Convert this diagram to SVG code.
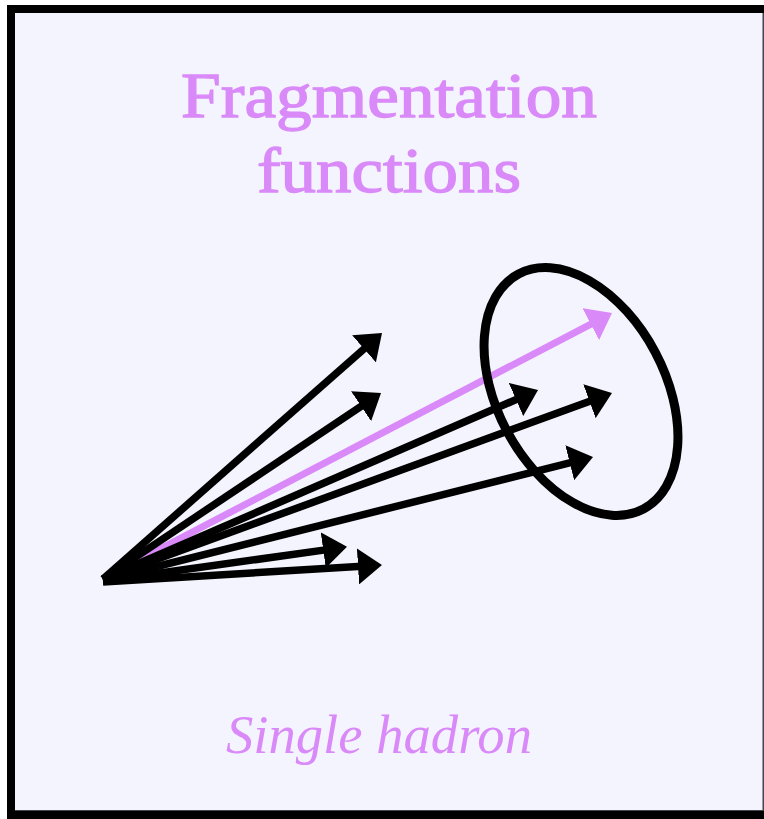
<svg xmlns="http://www.w3.org/2000/svg" width="764" height="819" viewBox="0 0 764 819">
<defs>
<style>
.ln{fill:none;stroke:#000;stroke-width:7.5;stroke-linecap:butt}
.pl{fill:none;stroke:#D98AF8;stroke-width:7;stroke-linecap:butt}
.title{font-family:"Liberation Serif",serif;font-size:64px;fill:#D98AF8;stroke:#D98AF8;stroke-width:1.3;text-anchor:middle}
.sub{font-family:"Liberation Serif",serif;font-style:italic;font-size:54px;fill:#D98AF8;text-anchor:middle}
</style>
<marker id="ah" markerUnits="userSpaceOnUse" viewBox="0 0 24 36" refX="4" refY="18" markerWidth="24" markerHeight="36" orient="auto"><path d="M0,0 L24,18 L0,36 z" fill="#000"/></marker>
<marker id="ahp" markerUnits="userSpaceOnUse" viewBox="0 0 24 36" refX="4" refY="18" markerWidth="24" markerHeight="36" orient="auto"><path d="M0,0 L24,18 L0,36 z" fill="#D98AF8"/></marker>
</defs>
<rect x="7" y="5" width="770" height="820" fill="#000"/>
<rect x="15" y="13" width="749" height="798" fill="#45454d"/>
<rect x="15" y="13" width="747.5" height="797" fill="#F4F4FE"/>
<g id="title">
<text class="title" x="389" y="117" textLength="416" lengthAdjust="spacingAndGlyphs">Fragmentation</text>
<text class="title" x="389" y="192" textLength="264" lengthAdjust="spacingAndGlyphs">functions</text>
</g>
<g id="connectors">
<line class="pl" x1="112" y1="574" x2="594.3" y2="322.3" marker-end="url(#ahp)"/>
<line class="ln" x1="103" y1="579" x2="367" y2="346.2" marker-end="url(#ah)"/>
<line class="ln" x1="103" y1="579" x2="364.4" y2="404.1" marker-end="url(#ah)"/>
<line class="ln" x1="103" y1="579" x2="519.7" y2="398" marker-end="url(#ah)"/>
<line class="ln" x1="103" y1="579" x2="593.2" y2="399.9" marker-end="url(#ah)"/>
<line class="ln" x1="103" y1="580" x2="573.6" y2="461.8" marker-end="url(#ah)"/>
<line class="ln" x1="103" y1="581" x2="327.2" y2="549.6" marker-end="url(#ah)"/>
<line class="ln" x1="103" y1="582" x2="362" y2="566.2" marker-end="url(#ah)"/>
</g>
<g id="hadron-ellipse">
<ellipse cx="581" cy="391.5" rx="84" ry="133" transform="rotate(-28 581 391.5)" fill="none" stroke="#000" stroke-width="9"/>
</g>
<g id="label">
<text class="sub" x="379" y="753" textLength="306" lengthAdjust="spacingAndGlyphs">Single hadron</text>
</g>
</svg>
